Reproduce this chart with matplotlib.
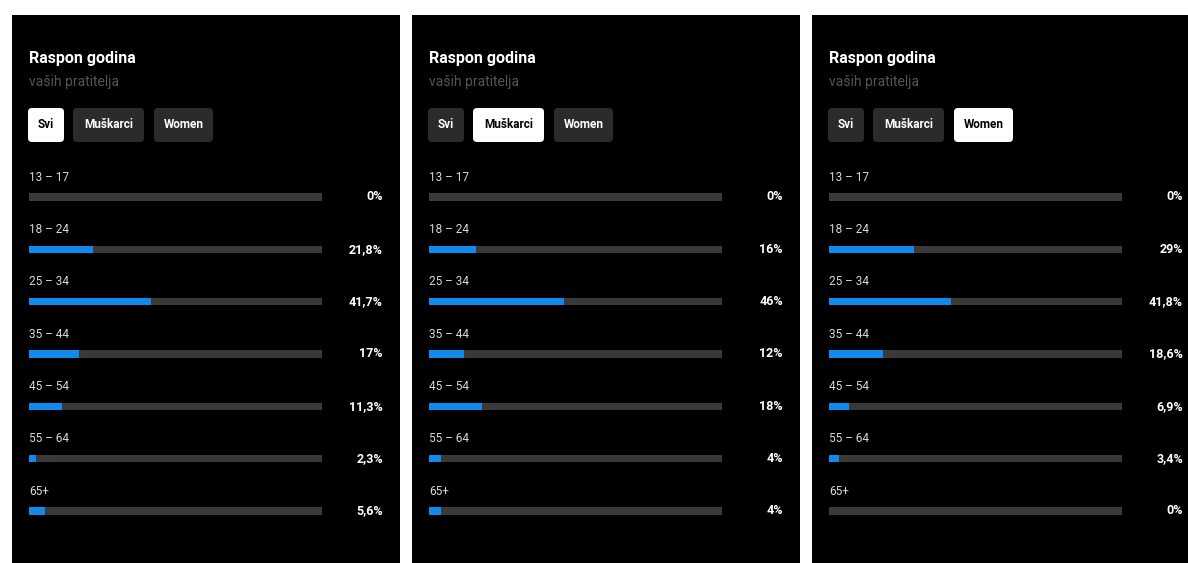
import matplotlib
matplotlib.use("Agg")
import matplotlib.pyplot as plt
from matplotlib.patches import FancyBboxPatch

plt.rcParams['font.family'] = ['Roboto', 'DejaVu Sans']

# podaci
dobne_skupine = ['13 – 17', '18 – 24', '25 – 34', '35 – 44', '45 – 54', '55 – 64', '65+']
svi = [0, 21.8, 41.7, 17, 11.3, 2.3, 5.6]
muskarci = [0, 16, 46, 12, 18, 4, 4]
zene = [0, 29, 41.8, 18.6, 6.9, 3.4, 0]
gumbi = ['Svi', 'Muškarci', 'Women']
naslov = 'Raspon godina'
podnaslov = 'vaših pratitelja'

W, H = 1188, 563
fig = plt.figure(figsize=(W / 100, H / 100), dpi=100)
fig.patch.set_facecolor('white')

plava = '#1289ec'
siva = '#393939'
gumb_siva = '#2b2b2b'


def px_axes(x0, y0, w, h):
    return fig.add_axes([x0 / W, 1 - (y0 + h) / H, w / W, h / H])


def fmt(v):
    return ('%g' % v).replace('.', ',') + '%'


def panel(x0, pw, vrijednosti, odabran):
    ph = H - 15
    ax = px_axes(x0, 15, pw, ph)
    ax.set_facecolor('black')
    ax.set_xlim(0, pw)
    ax.set_ylim(ph, 0)
    ax.set_xticks([])
    ax.set_yticks([])
    for s in ax.spines.values():
        s.set_visible(False)

    ax.text(17, 44, naslov, color='white', fontsize=11.5, fontweight='bold', va='center')
    ax.text(17, 67, podnaslov, color='#555555', fontsize=10, va='center')

    # gumbi
    bx = [16, 61, 142]
    bw = [36, 71, 59]
    for i, g in enumerate(gumbi):
        sel = (i == odabran)
        ax.add_patch(FancyBboxPatch((bx[i], 93), bw[i], 34,
                                    boxstyle='round,pad=0,rounding_size=4',
                                    fc='white' if sel else gumb_siva, ec='none'))
        ax.text(bx[i] + bw[i] / 2, 110, g, color='black' if sel else 'white',
                fontsize=8.5, fontweight='bold', ha='center', va='center')

    # trake
    n = len(dobne_skupine)
    red = 52.33
    bax = px_axes(x0 + 17, 197 - red / 2, 293, red * n)
    bax.set_xlim(0, 100)
    bax.set_ylim(n - 0.5, -0.5)
    bax.axis('off')
    y = list(range(n))
    bax.barh(y, [100] * n, height=0.14, color=siva)
    bax.barh(y, vrijednosti, height=0.14, color=plava)
    for i in range(n):
        bax.text(0, i - 0.38, dobne_skupine[i], color='#d8d8d8', fontsize=8.5,
                 va='center', ha='left')
        bax.text(120.8, i, fmt(vrijednosti[i]), color='white', fontsize=9,
                 fontweight='bold', va='center', ha='right', clip_on=False)


panel(12, 388, svi, 0)
panel(412, 388, muskarci, 1)
panel(812, 376, zene, 2)

fig.savefig('out.png', dpi=100, facecolor='white')
